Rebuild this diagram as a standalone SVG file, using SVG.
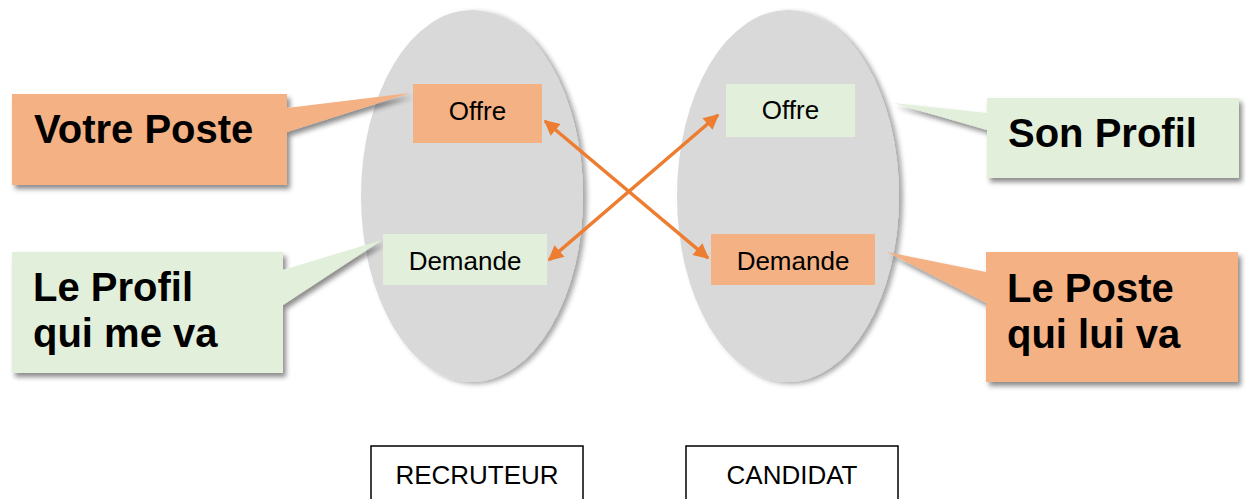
<svg xmlns="http://www.w3.org/2000/svg" width="1246" height="499" viewBox="0 0 1246 499">
<style>
.ell{fill:#D9D9D9}
.or{fill:#F4B183}
.gr{fill:#E2EFDA}
.t{font-family:"Liberation Sans",Arial,sans-serif;font-size:26px;fill:#000}
.b{font-family:"Liberation Sans",Arial,sans-serif;font-size:40px;font-weight:bold;fill:#000}
.lbl{fill:#fff;stroke:#000;stroke-width:1.5}
.arr{stroke:#ED7D31;stroke-width:3.5;fill:none;marker-start:url(#ah);marker-end:url(#ah)}
</style>
<defs>
<filter id="sh" x="-20%" y="-20%" width="140%" height="140%">
<feDropShadow dx="3" dy="4" stdDeviation="2.5" flood-color="#000" flood-opacity="0.45"/>
</filter>
<filter id="esh" x="-20%" y="-20%" width="140%" height="140%">
<feDropShadow dx="4" dy="2" stdDeviation="2.5" flood-color="#000" flood-opacity="0.35"/>
</filter>
<marker id="ah" viewBox="0 0 10 10" refX="9" refY="5" markerWidth="5.2" markerHeight="4.4" orient="auto-start-reverse" markerUnits="strokeWidth">
<path d="M0,0 L10,5 L0,10 Z" fill="#ED7D31"/>
</marker>
</defs>
<rect width="1246" height="499" fill="#fff"/>
<g id="recruteur-ellipse"><ellipse class="ell" cx="472" cy="196" rx="111" ry="186" filter="url(#esh)"/></g>
<g id="candidat-ellipse"><ellipse class="ell" cx="788" cy="196" rx="111" ry="186" filter="url(#esh)"/></g>
<g id="votre-poste"><path class="or" filter="url(#sh)" d="M12,94 H287 V108 L410,93 L287,132 V185 H12 Z"/><text class="b" x="34" y="143">Votre Poste</text></g>
<g id="le-profil"><path class="gr" filter="url(#sh)" d="M12,252 H283 V270 L382,240 L283,305 V373 H12 Z"/><text class="b" x="33" y="301">Le Profil</text><text class="b" x="33" y="347">qui me va</text></g>
<g id="son-profil"><path class="gr" filter="url(#sh)" d="M987,98 H1239 V178 H987 V130 L893,103 L987,113 Z"/><text class="b" x="1008" y="147">Son Profil</text></g>
<g id="le-poste"><path class="or" filter="url(#sh)" d="M986,252 H1238 V382 H986 V303 L887,252 L986,272 Z"/><text class="b" x="1007" y="302">Le Poste</text><text class="b" x="1007" y="348">qui lui va</text></g>
<g id="offre-r"><rect class="or" x="413" y="84" width="129" height="59"/><text class="t" x="477.5" y="120" text-anchor="middle">Offre</text></g>
<g id="demande-r"><rect class="gr" x="383" y="234" width="164" height="51"/><text class="t" x="465" y="270" text-anchor="middle">Demande</text></g>
<g id="offre-c"><rect class="gr" x="726" y="84" width="129" height="53"/><text class="t" x="790.5" y="119" text-anchor="middle">Offre</text></g>
<g id="demande-c"><rect class="or" x="711" y="234" width="164" height="51"/><text class="t" x="793" y="270" text-anchor="middle">Demande</text></g>
<g id="connectors">
<line class="arr" x1="545" y1="121" x2="708" y2="258"/>
<line class="arr" x1="718" y1="115" x2="549" y2="260"/>
</g>
<g id="recruteur"><rect class="lbl" x="371" y="446" width="212" height="60"/><text class="t" x="477" y="484" text-anchor="middle">RECRUTEUR</text></g>
<g id="candidat"><rect class="lbl" x="686" y="446" width="212" height="60"/><text class="t" x="792" y="484" text-anchor="middle">CANDIDAT</text></g>
</svg>
